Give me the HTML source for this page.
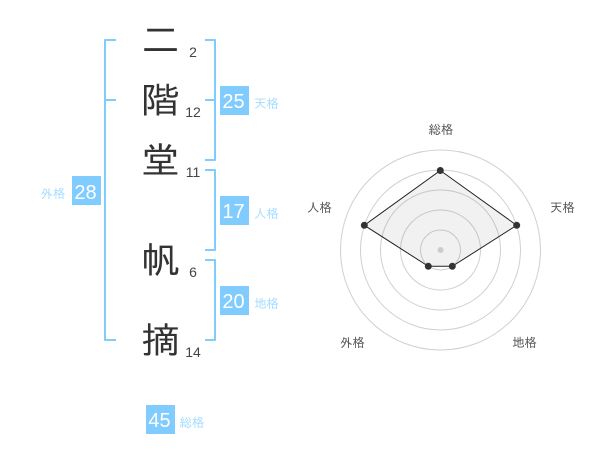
<!DOCTYPE html>
<html><head><meta charset="utf-8">
<style>
html,body{margin:0;padding:0;background:#fff;width:600px;height:470px;overflow:hidden}
svg{display:block}
.k{font:36px "Liberation Sans","IPAGothic",sans-serif;fill:#333;text-anchor:middle}
.s{font:14px "Liberation Sans",sans-serif;fill:#444;text-anchor:middle}
.n{font:20px "Liberation Sans",sans-serif;fill:#fff;text-anchor:middle}
.l{font:12.500px "Liberation Sans","IPAGothic",sans-serif;fill:#a5dcff;text-anchor:middle}
.r{font:12.500px "Liberation Sans","IPAGothic",sans-serif;fill:#555;text-anchor:middle}
.b{fill:none;stroke:#80ccff;stroke-width:2;stroke-linejoin:round}
.c{fill:none;stroke:#d0d0d0;stroke-width:1}
</style></head><body>
<svg width="600" height="470" viewBox="0 0 600 470" xmlns="http://www.w3.org/2000/svg">
<path class="b" d="M116 40H105V340H116M105 100H116"/>
<path class="b" d="M205 40H215V160H205M205 100H215"/>
<path class="b" d="M205 170H215V250H205"/>
<path class="b" d="M205 260H215V340H205"/>
<g transform="translate(160.500 0) scale(1.080 1)">
<text class="k" x="0" y="53">二</text>
<text class="k" x="0" y="113">階</text>
<text class="k" x="0" y="173">堂</text>
<text class="k" x="0" y="273">帆</text>
<text class="k" x="0" y="353">摘</text>
</g>
<text class="s" x="193" y="57">2</text>
<text class="s" x="193" y="117">12</text>
<text class="s" x="193" y="177">11</text>
<text class="s" x="193" y="277">6</text>
<text class="s" x="193" y="357">14</text>
<rect x="72" y="176" width="29" height="29" fill="#80ccff"/>
<text class="n" x="85.500" y="199">28</text>
<text class="l" x="53" y="198">外格</text>
<rect x="220" y="86" width="29" height="29" fill="#80ccff"/>
<text class="n" x="233.500" y="108">25</text>
<text class="l" x="266.500" y="108">天格</text>
<rect x="220" y="196" width="29" height="29" fill="#80ccff"/>
<text class="n" x="233.500" y="218">17</text>
<text class="l" x="266.500" y="218">人格</text>
<rect x="220" y="286" width="29" height="29" fill="#80ccff"/>
<text class="n" x="233.500" y="308">20</text>
<text class="l" x="266.500" y="308">地格</text>
<rect x="146" y="405" width="29" height="29" fill="#80ccff"/>
<text class="n" x="159.500" y="427">45</text>
<text class="l" x="192" y="427">総格</text>
<circle class="c" cx="440.500" cy="250" r="20"/>
<circle class="c" cx="440.500" cy="250" r="40"/>
<circle class="c" cx="440.500" cy="250" r="60"/>
<circle class="c" cx="440.500" cy="250" r="80"/>
<circle class="c" cx="440.500" cy="250" r="100"/>
<polygon points="440.300,170.500 516.700,225.300 452.300,266.300 428.300,266.300 364.300,225.300" fill="rgba(120,120,120,0.1)" stroke="#222" stroke-width="1"/>
<circle cx="440.500" cy="250" r="3" fill="#ccc"/>
<g fill="#333">
<circle cx="440.300" cy="170.500" r="3.500"/>
<circle cx="516.700" cy="225.300" r="3.500"/>
<circle cx="452.300" cy="266.300" r="3.500"/>
<circle cx="428.300" cy="266.300" r="3.500"/>
<circle cx="364.300" cy="225.300" r="3.500"/>
</g>
<text class="r" x="441" y="134">総格</text>
<text class="r" x="562.500" y="212">天格</text>
<text class="r" x="524.500" y="347">地格</text>
<text class="r" x="352.500" y="347">外格</text>
<text class="r" x="319.500" y="212">人格</text>
</svg>
</body></html>
